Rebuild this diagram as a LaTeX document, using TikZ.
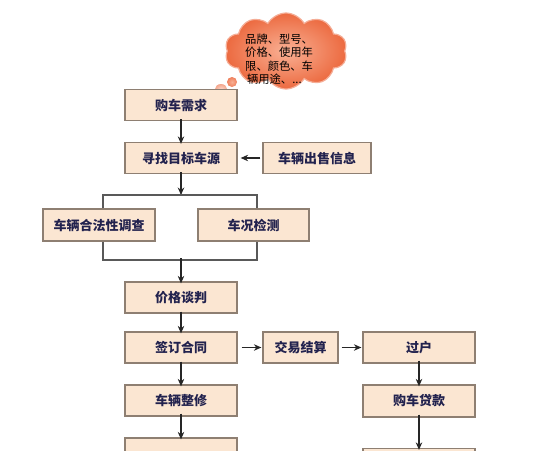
\documentclass[tikz,border=0pt]{standalone}
\usepackage{fontspec}
\newfontfamily\cjk{Noto Sans CJK SC}
\usetikzlibrary{shapes.symbols,arrows.meta}
\definecolor{boxfill}{HTML}{FBE6D2}
\definecolor{boxline}{HTML}{8E7F72}
\definecolor{txt}{HTML}{22224E}
\definecolor{cloudin}{HTML}{F9B094}
\definecolor{cloudout}{HTML}{EC6A40}
\tikzset{
  stepbox/.style={draw=boxline, line width=1.3pt, fill=boxfill, minimum width=112pt, minimum height=31pt,
    inner sep=0pt, font=\cjk\bfseries\fontsize{13}{13}\selectfont, text=txt},
  conn/.style={draw=black!85, line width=1.1pt, -{Stealth[length=7.5pt,width=6.5pt]}},
  brk/.style={draw=black!65, line width=1.1pt},
}
\begin{document}
\begin{tikzpicture}[x=1pt,y=-1pt]
\useasboundingbox (0,0) rectangle (546,450);
\fill[white] (0,0) rectangle (546,450);
% thought cloud
\node[cloud, cloud puffs=10, cloud puff arc=120, aspect=1.6, minimum width=122pt, minimum height=76pt,
  shading=radial, inner color=cloudin, outer color=cloudout, draw=cloudout!55!white, line width=1.2pt] (cloud) at (286,51) {};
\shade[inner color=cloudin, outer color=cloudout!85!white] (232,82) circle (5);
\shade[inner color=cloudin!50!white, outer color=cloudout!60!white] (221,89) ellipse (6 and 5);
\node[align=left, font=\cjk\fontsize{11.3}{13.4}\selectfont, text=black, inner sep=0pt, anchor=north west] (cloudtxt) at (245,33.5)
  {品牌、型号、\\价格、使用年\\限、颜色、车\\\,辆用途、...};
% boxes
\node[stepbox] (need) at (181,105) {购车需求};
\node[stepbox] (find) at (181,158) {寻找目标车源};
\node[stepbox, minimum width=108pt] (info) at (317,158) {车辆出售信息};
\node[stepbox, minimum height=32pt] (legal) at (99,225) {车辆合法性调查};
\node[stepbox, minimum height=32pt, minimum width=111pt] (check) at (253.5,225) {车况检测};
\node[stepbox] (price) at (181,297.5) {价格谈判};
\node[stepbox] (sign) at (181,347.5) {签订合同};
\node[stepbox, minimum width=75pt] (settle) at (300.5,347.5) {交易结算};
\node[stepbox] (transfer) at (419,347.5) {过户};
\node[stepbox, minimum height=32pt] (loan) at (419,401) {购车贷款};
\node[stepbox] (repair) at (181,400.5) {车辆整修};
\node[stepbox] (nextL) at (181,453.5) {};
\node[stepbox] (nextR) at (419,464) {};
% connectors
\coordinate (tl) at (103,195);
\coordinate (tr) at (257,195);
\coordinate (tm) at (181,195);
\coordinate (bl) at (103,260);
\coordinate (br) at (257,260);
\coordinate (bm) at (181,260);
\draw[conn] ([yshift=2pt]need.south) -- ([yshift=-2pt]find.north);
\draw[conn] ([xshift=-2pt]info.west) -- ([xshift=3pt]find.east);
\draw[conn] ([yshift=2pt]find.south) -- (tm);
\draw[brk] (tl |- legal.north) -- (tl) -- (tr) -- (tr |- check.north);
\draw[brk] (bl |- legal.south) -- (bl) -- (br) -- (br |- check.south);
\draw[conn] ([yshift=2pt]bm) -- ([yshift=-2pt]price.north);
\draw[conn] ([yshift=2pt]price.south) -- ([yshift=-2pt]sign.north);
\draw[conn] ([yshift=2pt]sign.south) -- ([yshift=-2pt]repair.north);
\draw[conn] ([yshift=3pt]repair.south) -- ([yshift=-2pt]nextL.north);
\draw[conn] ([xshift=4pt]sign.east) -- ([xshift=-1pt]settle.west);
\draw[conn] ([xshift=3pt]settle.east) -- ([xshift=-1pt]transfer.west);
\draw[conn] ([yshift=3pt]transfer.south) -- ([yshift=-2pt]loan.north);
\draw[conn] ([yshift=3pt]loan.south) -- ([yshift=-2pt]nextR.north);
\end{tikzpicture}
\end{document}
